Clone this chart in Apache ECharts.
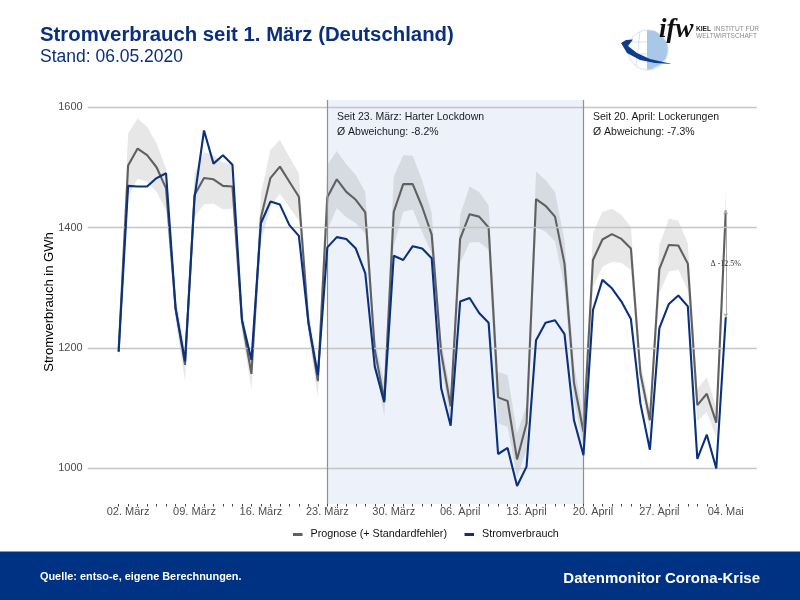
<!DOCTYPE html>
<html><head><meta charset="utf-8">
<style>html,body{margin:0;padding:0;background:#fff}#c{width:800px;height:600px}</style>
<script src="https://cdn.jsdelivr.net/npm/echarts@6/dist/echarts.min.js"></script>
</head><body><div id="c"></div>
<script>
const tickDays = [1,8,15,22,29,36,43,50,57,64];
const tickLabels = ['02. März','09. März','16. März','23. März','30. März','06. April','13. April','20. April','27. April','04. Mai'];
const allDays = [0,1,2,3,4,5,6,7,8,9,10,11,12,13,14,15,16,17,18,19,20,21,22,23,24,25,26,27,28,29,30,31,32,33,34,35,36,37,38,39,40,41,42,43,44,45,46,47,48,49,50,51,52,53,54,55,56,57,58,59,60,61,62,63,64];
const yTicks = [1000,1200,1400,1600];
const actual = [1194,1469,1468,1468,1482,1490,1266,1178,1449,1561,1506,1520,1504,1246,1180,1407,1443,1438,1404,1386,1243,1155,1367,1384,1381,1365,1324,1169,1110,1353,1346,1369,1365,1349,1133,1071,1277,1283,1258,1242,1024,1034,971,1003,1213,1242,1246,1223,1080,1022,1263,1313,1299,1277,1248,1108,1031,1233,1273,1287,1269,1016,1056,1000,1251];
const forecast = [1194,1503,1531,1520,1500,1465,1266,1172,1454,1482,1480,1469,1468,1246,1157,1416,1482,1501,1476,1451,1243,1145,1450,1480,1459,1446,1425,1197,1113,1426,1472,1472,1434,1388,1192,1103,1381,1422,1418,1400,1118,1112,1015,1075,1447,1436,1418,1340,1142,1061,1346,1380,1389,1381,1365,1158,1080,1331,1371,1370,1340,1105,1124,1076,1428];
const upper = [1215,1556,1581,1567,1540,1498,1286,1200,1490,1525,1520,1508,1505,1265,1183,1456,1529,1545,1517,1490,1263,1172,1504,1527,1505,1487,1459,1217,1140,1484,1520,1519,1478,1424,1212,1128,1421,1468,1459,1437,1160,1155,1059,1105,1493,1479,1459,1379,1172,1085,1391,1426,1431,1421,1401,1178,1100,1371,1415,1411,1374,1132,1152,1101,1468];
const lower = [1173,1450,1481,1476,1459,1429,1246,1144,1418,1438,1440,1430,1431,1227,1131,1376,1434,1456,1433,1412,1223,1118,1396,1432,1417,1407,1390,1177,1086,1368,1426,1430,1392,1357,1172,1078,1341,1375,1376,1363,1075,1069,986,1031,1401,1393,1377,1300,1112,1037,1301,1335,1343,1341,1330,1138,1060,1291,1327,1330,1296,1078,1094,1051,1388];
const lockdownStart = 22, lockdownEnd = 49, lastDay = 64;
const pairs = arr => arr.map((v,i)=>[allDays[i],v]);
const txt = '"Liberation Sans", Arial, sans-serif';
const navy = '#0a2f7f';

const chart = echarts.init(document.getElementById('c'), null, {renderer:'canvas'});
chart.setOption({
  animation:false,
  backgroundColor:'#fff',
  grid:{left:87.7,right:43.3,top:100,bottom:96,containLabel:false},
  legend:{
    left:288, top:524, itemWidth:9.5, itemHeight:3, itemGap:17.5, icon:'rect',
    data:['Prognose (+ Standardfehler)','Stromverbrauch'],
    textStyle:{fontFamily:txt,fontSize:10.8,color:'#111',padding:[0,0,0,3]}
  },
  xAxis:{
    type:'value', min:-3.26, max:67.26, splitLine:{show:false},
    axisLine:{show:false},
    axisTick:{show:true,length:2.5,lineStyle:{color:'#444',width:1},customValues:allDays},
    axisLabel:{show:true,customValues:tickDays,margin:2,color:'#4d4d4d',fontFamily:txt,fontSize:11,
      formatter:v=>tickLabels[tickDays.indexOf(v)]||''}
  },
  yAxis:{
    type:'value', min:941, max:1611.6, interval:200,
    name:'Stromverbrauch in GWh', nameLocation:'middle', nameGap:32, nameRotate:90, nameMoveOverlap:false,
    nameTextStyle:{fontFamily:txt,fontSize:13,color:'#000'},
    axisLine:{show:false},
    axisTick:{show:true,length:2.5,lineStyle:{color:'#555'},customValues:yTicks},
    axisLabel:{customValues:yTicks,margin:5,color:'#4d4d4d',fontFamily:txt,fontSize:11,formatter:v=>String(v)},
    splitLine:{show:false}
  },
  series:[
    {type:'line',name:'grid',data:[],silent:true,z:0,
     markLine:{silent:true,symbol:'none',animation:false,label:{show:false},
       lineStyle:{color:'#c4c4c4',width:1.3,type:'solid'},
       data:yTicks.map(v=>({yAxis:v}))}},
    {type:'line',name:'periods',data:[],silent:true,z:1,
     markArea:{silent:true,animation:false,itemStyle:{color:'rgba(0,60,170,0.07)'},
       data:[[{xAxis:lockdownStart},{xAxis:lockdownEnd}]]},
     markLine:{silent:true,symbol:'none',animation:false,label:{show:false},
       lineStyle:{color:'#8f8f8f',width:1.2,type:'solid'},
       data:[{xAxis:lockdownStart},{xAxis:lockdownEnd}]}},
    {type:'custom',name:'band',silent:true,z:3,
     data:[[0]],
     encode:{x:0},
     renderItem:(params,api)=>{
       const pts=[];
       allDays.forEach((d,i)=>pts.push(api.coord([d,upper[i]])));
       for(let i=allDays.length-1;i>=0;i--)pts.push(api.coord([allDays[i],lower[i]]));
       return {type:'polygon',shape:{points:pts},style:{fill:'rgba(0,0,0,0.095)',stroke:null}};
     }},
    {type:'line',name:'Prognose (+ Standardfehler)',data:pairs(forecast),symbol:'none',z:4,
     itemStyle:{color:'#606060'},lineStyle:{color:'#606060',width:2.1},
     markLine:{silent:true,animation:false,symbol:['arrow','arrow'],symbolSize:4,precision:0,
       label:{show:false},lineStyle:{color:'#aaaaaa',width:1,type:'solid'},
       data:[[{coord:[lastDay,forecast[lastDay]]},{coord:[lastDay,actual[lastDay]]}]]},
     markPoint:{silent:true,animation:false,symbol:'circle',symbolSize:0,
       label:{show:true,formatter:'Δ -12.5%',fontFamily:'"Liberation Serif", serif',fontSize:8,color:'#333',position:'inside'},
       data:[{coord:[lastDay,1340]}]}},
    {type:'line',name:'Stromverbrauch',data:pairs(actual),symbol:'none',z:5,
     itemStyle:{color:'#0a3080'},lineStyle:{color:'#0a3080',width:2.1}}
  ],
  graphic:[
    {type:'text',left:40,top:25,style:{text:'Stromverbrauch seit 1. März (Deutschland)',fontFamily:txt,fontWeight:'bold',fontSize:20.35,fill:navy}},
    {type:'text',left:40,top:48,style:{text:'Stand: 06.05.2020',fontFamily:txt,fontSize:17.5,fill:navy}},
    {type:'text',left:337,top:112,style:{text:'Seit 23. März: Harter Lockdown',fontFamily:txt,fontSize:10.5,fill:'#1a1a1a'}},
    {type:'text',left:337,top:127,style:{text:'Ø Abweichung: -8.2%',fontFamily:txt,fontSize:10.5,fill:'#1a1a1a'}},
    {type:'text',left:593,top:112,style:{text:'Seit 20. April: Lockerungen',fontFamily:txt,fontSize:10.5,fill:'#1a1a1a'}},
    {type:'text',left:593,top:127,style:{text:'Ø Abweichung: -7.3%',fontFamily:txt,fontSize:10.5,fill:'#1a1a1a'}},
    {type:'rect',left:0,top:551.5,shape:{width:800,height:48.5},style:{fill:'#003283'},z:-1},
    {type:'text',left:40,top:571,style:{text:'Quelle: entso-e, eigene Berechnungen.',fontFamily:txt,fontWeight:'bold',fontSize:10.9,fill:'#fff'}},
    {type:'text',right:40,top:571,style:{text:'Datenmonitor Corona-Krise',fontFamily:txt,fontWeight:'bold',fontSize:15,fill:'#fff'}},
    /* logo */
    {type:'polygon',shape:{points:[[647,30],[655,31],[662,36],[667,43],[668,50],[666,58],[660,65],[652,69],[647,70]]},style:{fill:'#a9c7e8'}},
    {type:'circle',shape:{cx:648,cy:50,r:20},style:{fill:'none',stroke:'#c4d6ea',lineWidth:0.7}},
    {type:'line',shape:{x1:630,y1:42,x2:647,y2:42},style:{stroke:'#c4d6ea',lineWidth:0.7}},
    {type:'line',shape:{x1:629,y1:54,x2:647,y2:54},style:{stroke:'#c4d6ea',lineWidth:0.7}},
    {type:'line',shape:{x1:640,y1:32,x2:636,y2:66},style:{stroke:'#c4d6ea',lineWidth:0.7}},
    {type:'polygon',shape:{points:[[621,43],[627,53],[640,60],[655,63],[672,64],[650,59],[637,53],[628,46],[633,39.5],[626,40]]},style:{fill:'#0f3d8c'}},
    {type:'text',left:659,top:17,style:{text:'ifw',fontFamily:'"Liberation Serif", serif',fontStyle:'italic',fontWeight:'bold',fontSize:27,fill:'#111'}},
    {type:'text',left:696,top:25.5,style:{text:'KIEL',fontFamily:txt,fontWeight:'bold',fontSize:6.6,fill:'#222'}},
    {type:'text',left:714,top:25.5,style:{text:'INSTITUT FÜR',fontFamily:txt,fontSize:6.6,fill:'#8a8a8a'}},
    {type:'text',left:696,top:32.5,style:{text:'WELTWIRTSCHAFT',fontFamily:txt,fontSize:6.6,fill:'#8a8a8a'}}
  ]
});
</script></body></html>
